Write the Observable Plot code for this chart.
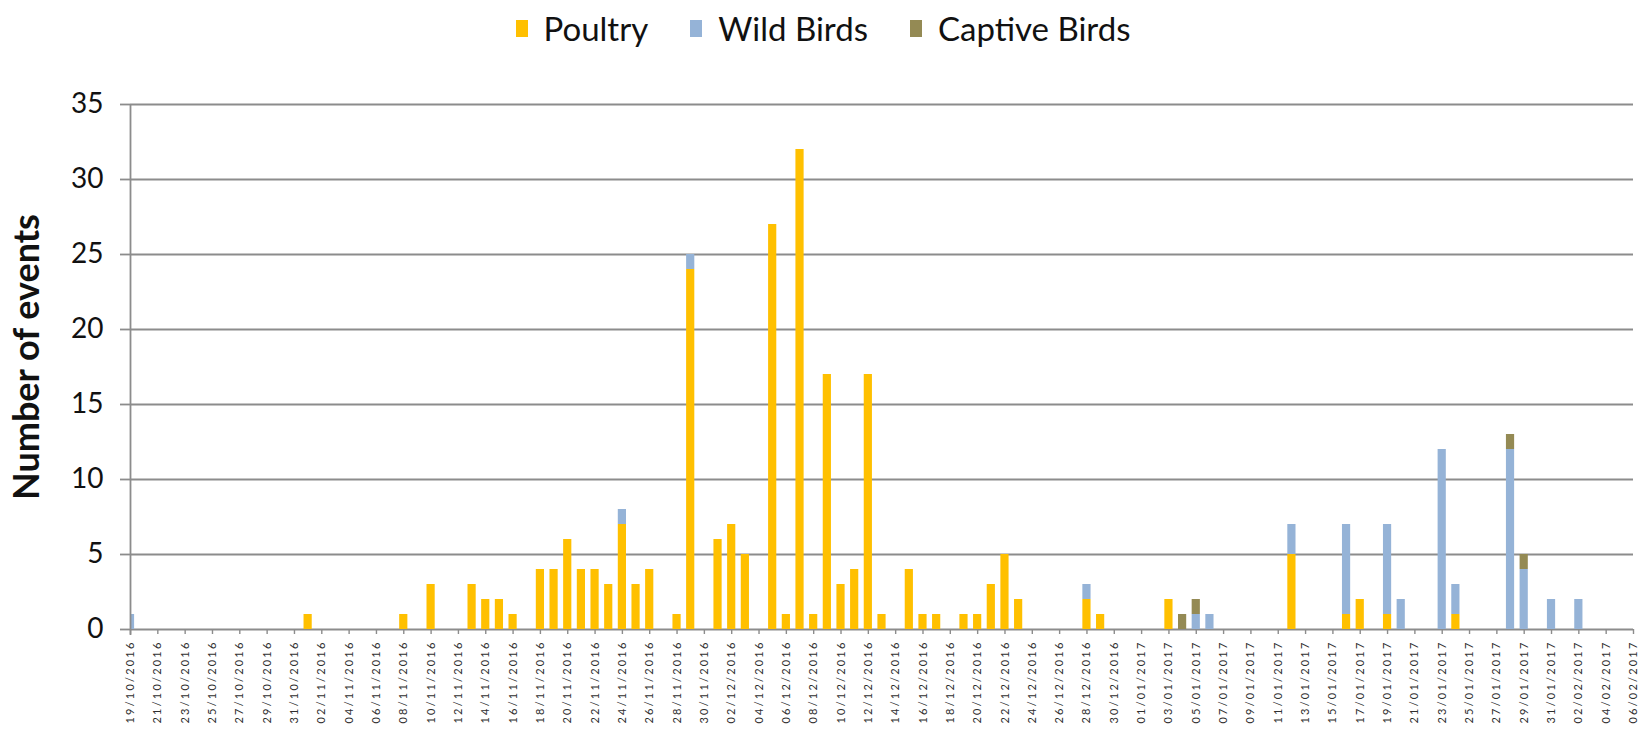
<!DOCTYPE html>
<html>
<head>
<meta charset="utf-8">
<script src="https://cdn.jsdelivr.net/npm/d3@7"></script>
<script src="https://cdn.jsdelivr.net/npm/@observablehq/plot@0.6"></script>
<style>
  html, body { margin: 0; padding: 0; background: #fff; }
  body { width: 1642px; height: 732px; overflow: hidden; font-family: Lato, "Open Sans", sans-serif; }
  #legend { height: 62px; padding-bottom: 6px; display: flex; justify-content: center; align-items: center; box-sizing: border-box; padding-left: 4px; }
  .item { display: flex; align-items: center; font-size: 33px; color: #111; margin: 0 21px; }
  .sw { width: 12px; height: 17px; margin-right: 16px; display: inline-block; }
</style>
</head>
<body>
<div id="legend"></div>
<div id="chart"></div>
<script>
// ---- data ----
const seriesNames = ["Poultry", "Wild Birds", "Captive Birds"];
const seriesColors = ["#FFC000", "#95B3D7", "#948A54"];

const days = [
  "19/10/2016","01/11/2016","08/11/2016","10/11/2016","13/11/2016","14/11/2016","15/11/2016","16/11/2016",
  "18/11/2016","19/11/2016","20/11/2016","21/11/2016","22/11/2016","23/11/2016","24/11/2016","25/11/2016",
  "26/11/2016","28/11/2016","29/11/2016","01/12/2016","02/12/2016","03/12/2016","05/12/2016","06/12/2016",
  "07/12/2016","08/12/2016","09/12/2016","10/12/2016","11/12/2016","12/12/2016","13/12/2016","15/12/2016",
  "16/12/2016","17/12/2016","19/12/2016","20/12/2016","21/12/2016","22/12/2016","23/12/2016","28/12/2016",
  "29/12/2016","03/01/2017","04/01/2017","05/01/2017","06/01/2017","12/01/2017","16/01/2017","17/01/2017",
  "19/01/2017","20/01/2017","23/01/2017","24/01/2017","28/01/2017","29/01/2017","31/01/2017","02/02/2017"
];
const poultry = [
  0,1,1,3,3,2,2,1,
  4,4,6,4,4,3,7,3,
  4,1,24,6,7,5,27,1,
  32,1,17,3,4,17,1,4,
  1,1,1,1,3,5,2,2,
  1,2,0,0,0,5,1,2,
  1,0,0,1,0,0,0,0
];
const wildBirds = [
  1,0,0,0,0,0,0,0,
  0,0,0,0,0,0,1,0,
  0,0,1,0,0,0,0,0,
  0,0,0,0,0,0,0,0,
  0,0,0,0,0,0,0,1,
  0,0,0,1,1,2,6,0,
  6,2,12,2,12,4,2,2
];
const captiveBirds = [
  0,0,0,0,0,0,0,0,
  0,0,0,0,0,0,0,0,
  0,0,0,0,0,0,0,0,
  0,0,0,0,0,0,0,0,
  0,0,0,0,0,0,0,0,
  0,0,1,1,0,0,0,0,
  0,0,0,0,1,1,0,0
];
const tickLabels = [
  "19/10/2016","21/10/2016","23/10/2016","25/10/2016","27/10/2016","29/10/2016","31/10/2016",
  "02/11/2016","04/11/2016","06/11/2016","08/11/2016","10/11/2016","12/11/2016","14/11/2016","16/11/2016",
  "18/11/2016","20/11/2016","22/11/2016","24/11/2016","26/11/2016","28/11/2016","30/11/2016",
  "02/12/2016","04/12/2016","06/12/2016","08/12/2016","10/12/2016","12/12/2016","14/12/2016","16/12/2016",
  "18/12/2016","20/12/2016","22/12/2016","24/12/2016","26/12/2016","28/12/2016","30/12/2016",
  "01/01/2017","03/01/2017","05/01/2017","07/01/2017","09/01/2017","11/01/2017","13/01/2017","15/01/2017",
  "17/01/2017","19/01/2017","21/01/2017","23/01/2017","25/01/2017","27/01/2017","29/01/2017","31/01/2017",
  "02/02/2017","04/02/2017","06/02/2017"
];
const yTicks = [0, 5, 10, 15, 20, 25, 30, 35];
const yLabel = "Number of events";

// ---- build table (stacked) ----
const parse = d3.utcParse("%d/%m/%Y");
const fmt = d3.utcFormat("%d/%m/%Y");
const series = [poultry, wildBirds, captiveBirds];
const rows = [];
days.forEach((s, i) => {
  let base = 0;
  series.forEach((arr, k) => {
    const v = arr[i];
    if (v > 0) rows.push({date: parse(s), type: seriesNames[k], y1: base, y2: base + v});
    base += v;
  });
});
const tickDates = tickLabels.map(parse);
const halfBar = 7.2; // hours on each side of the day

// ---- legend ----
const legend = document.getElementById("legend");
seriesNames.forEach((n, i) => {
  const it = document.createElement("div");
  it.className = "item";
  it.innerHTML = `<span class="sw" style="background:${seriesColors[i]}"></span><span>${n}</span>`;
  legend.appendChild(it);
});

// ---- chart ----
const chart = Plot.plot({
  width: 1642,
  height: 670,
  marginTop: 42,
  marginBottom: 103,
  marginLeft: 130,
  marginRight: 9,
  style: {fontFamily: "Lato, 'Open Sans', sans-serif", background: "#fff"},
  x: {type: "utc", domain: [tickDates[0], tickDates[tickDates.length - 1]]},
  y: {domain: [0, 35]},
  color: {domain: seriesNames, range: seriesColors},
  marks: [
    Plot.gridY(yTicks, {stroke: "#8c8c8c", strokeOpacity: 1, strokeWidth: 1.8}),
    Plot.rect(rows, {
      x1: d => d3.utcMinute.offset(d.date, -halfBar * 60),
      x2: d => d3.utcMinute.offset(d.date, halfBar * 60),
      y1: "y1", y2: "y2", fill: "type", clip: true
    }),
    Plot.ruleX([tickDates[0]], {stroke: "#8c8c8c", strokeWidth: 1.8, insetBottom: -6}),
    Plot.axisY(yTicks, {
      tickSize: 10, tickPadding: 17, stroke: "#8c8c8c", strokeWidth: 1.8,
      fontSize: 28, fill: "#111", label: null
    }),
    Plot.axisX(tickDates, {
      tickFormat: fmt, tickRotate: -90, tickSize: 5, tickPadding: 6,
      stroke: "#8c8c8c", strokeWidth: 1.4, fontSize: 11, fill: "#2f2f2f", label: null
    }),
    Plot.text([yLabel], {
      frameAnchor: "left", textAnchor: "middle", rotate: -90, dx: -103, dy: -10,
      fontSize: 36, fontWeight: "bold", fill: "#111"
    })
  ]
});
d3.select(chart).selectAll("[aria-label='x-axis tick label'] text").style("letter-spacing", "2.2px");
document.getElementById("chart").appendChild(chart);
</script>
</body>
</html>
